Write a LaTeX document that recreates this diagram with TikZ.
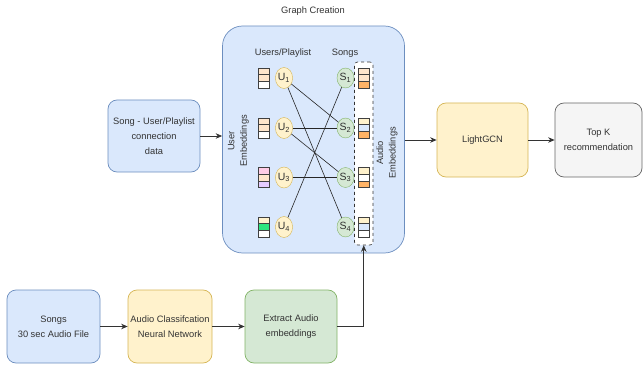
\documentclass[tikz,border=0pt]{standalone}
\usepackage{fontspec}
\setmainfont{Liberation Sans}
\usetikzlibrary{shapes.geometric,arrows.meta}
\definecolor{txt}{HTML}{333333}
\definecolor{blueFill}{HTML}{DAE8FC}
\definecolor{blueLine}{HTML}{6C8EBF}
\definecolor{yellowFill}{HTML}{FFF2CC}
\definecolor{yellowLine}{HTML}{D6B656}
\definecolor{greenFill}{HTML}{D5E8D4}
\definecolor{greenLine}{HTML}{82B366}
\definecolor{grayFill}{HTML}{F5F5F5}
\definecolor{grayLine}{HTML}{666666}
\definecolor{peach}{HTML}{FFE6CC}
\definecolor{cream}{HTML}{FFF2CC}
\definecolor{pinkc}{HTML}{FFCCE6}
\definecolor{lilac}{HTML}{E5CCFF}
\definecolor{mint}{HTML}{2EE67F}
\definecolor{orangec}{HTML}{FFB366}
\definecolor{bluec}{HTML}{DAE8FC}
\newcommand{\ch}{6.7}

\begin{document}
\begin{tikzpicture}[x=1pt,y=-1pt,
    box/.style={draw, rounded corners=9pt, minimum width=92pt, minimum height=72pt, align=center, inner sep=2pt, line width=0.7pt, text=txt, font=\fontsize{9.3}{15}\selectfont},
    bluebox/.style={box, fill=blueFill, draw=blueLine},
    yellowbox/.style={box, fill=yellowFill, draw=yellowLine},
    greenbox/.style={box, fill=greenFill, draw=greenLine},
    graybox/.style={box, fill=grayFill, draw=grayLine},
    label/.style={text=txt, font=\fontsize{9.3}{12.5}\selectfont, align=center, inner sep=0pt},
    unode/.style={ellipse, draw=yellowLine, fill=yellowFill, minimum width=15pt, minimum height=21pt, inner sep=0pt, text=txt, font=\fontsize{10.5}{11}\selectfont},
    snode/.style={unode, draw=greenLine, fill=greenFill, minimum width=17pt, minimum height=20pt},
    cell/.style={draw=black!75, fill=#1, minimum width=11pt, minimum height=\ch pt, inner sep=0pt, line width=0.6pt},
    link/.style={draw=black!85, line width=0.6pt},
    arrow/.style={-{Stealth[length=6.5pt,width=5.5pt]}, draw=black!80, line width=0.8pt}]
    \useasboundingbox (0,0) rectangle (643,369);

    % Graph creation
    \node[label] (title) at (313,11) {Graph Creation};
    \node[bluebox, rounded corners=20pt, minimum width=182pt, minimum height=227pt] (graph) at (313.5,139.5) {};
    \node[draw=black!80, fill=white, dashed, rounded corners=3pt, minimum width=18.5pt, minimum height=183pt, line width=0.6pt] (audio-box) at (363.75,153.5) {};
    \node[label] (users-title) at (283,53) {Users/Playlist};
    \node[label] (songs-title) at (345,53) {Songs};
    \node[label, rotate=90] (user-emb) at (238.5,141) {User\\Embeddings};
    \node[label, rotate=90] (audio-emb) at (387,153) {Audio\\Embeddings};

    % Users and songs
    \foreach \i/\y/\a/\b/\c/\d/\e/\f in {1/78/peach/peach/white/peach/peach/orangec,
                                         2/128/peach/peach/white/cream/bluec/orangec,
                                         3/177.5/pinkc/peach/lilac/cream/white/orangec,
                                         4/227/cream/mint/white/cream/bluec/white} {
        \node[cell=\a] (ue-\i-1) at (263.5,\y-\ch) {};
        \node[cell=\b] (ue-\i-2) at (263.5,\y) {};
        \node[cell=\c] (ue-\i-3) at (263.5,\y+\ch) {};
        \node[cell=\d] (ae-\i-1) at (364,\y-\ch) {};
        \node[cell=\e] (ae-\i-2) at (364,\y) {};
        \node[cell=\f] (ae-\i-3) at (364,\y+\ch) {};
        \node[unode] (u-\i) at (284,\y) {U\textsubscript{\i}};
        \node[snode] (s-\i) at (345.5,\y) {S\textsubscript{\i}};
    }

    \draw[link] (u-1) -- (s-2);
    \draw[link] (u-1) -- (s-4);
    \draw[link] (u-2) -- (s-2);
    \draw[link] (u-2) -- (s-3);
    \draw[link] (u-3) -- (s-3);
    \draw[link] (u-4) -- (s-1);

    % Inputs and outputs
    \node[bluebox] (conn) at (154,136) {Song - User/Playlist\\connection\\data};
    \node[yellowbox, minimum width=91pt, minimum height=74pt] (lightgcn) at (482.5,140) {LightGCN};
    \node[graybox, minimum width=87pt, minimum height=74pt] (topk) at (598.5,140) {Top K\\recommendation};

    % Audio row
    \node[bluebox, minimum width=93pt, minimum height=73pt] (songs) at (53.5,326.5) {Songs\\30 sec Audio File};
    \node[yellowbox, minimum width=84pt, minimum height=73pt] (classif) at (170,326.5) {Audio Classifcation\\Neural Network};
    \node[greenbox, minimum width=92pt, minimum height=73pt] (extract) at (291,326.5) {Extract Audio\\embeddings};

    \draw[arrow] (conn.east) -- (conn.east -| graph.west);
    \draw[arrow] (graph.east |- lightgcn.west) -- (lightgcn.west);
    \draw[arrow] (lightgcn.east) -- (topk.west);
    \draw[arrow] (songs.east) -- (classif.west);
    \draw[arrow] (classif.east) -- (extract.west);
    \draw[arrow] (extract.east) -| (audio-box.south);
\end{tikzpicture}
\end{document}
